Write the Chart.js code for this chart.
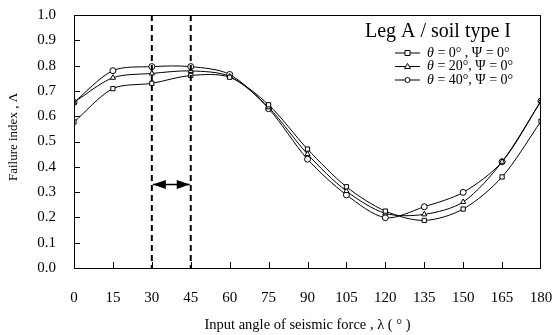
<!DOCTYPE html>
<html><head><meta charset="utf-8">
<style>html,body{margin:0;padding:0;background:#fff}#c{display:block}</style>
<script src="https://cdn.jsdelivr.net/npm/chart.js@4/dist/chart.umd.min.js"></script>
</head><body>
<canvas id="c" width="554" height="335"></canvas>
<script>
const angles=[0,15,30,45,60,75,90,105,120,135,150,165,180];
const theta0=[0.577,0.709,0.730,0.761,0.754,0.645,0.470,0.321,0.225,0.188,0.233,0.360,0.580];
const theta20=[0.655,0.752,0.769,0.779,0.757,0.635,0.450,0.304,0.216,0.212,0.261,0.420,0.660];
const theta40=[0.655,0.780,0.796,0.796,0.765,0.630,0.430,0.289,0.199,0.242,0.299,0.420,0.660];
const seriesLabels=['θ = 0° , Ψ = 0°','θ = 20°, Ψ = 0°','θ = 40°, Ψ = 0°'];
const markers=['rect','triangle','circle'];
const xTicks=[0,15,30,45,60,75,90,105,120,135,150,165,180];
const yTicks=[0,0.1,0.2,0.3,0.4,0.5,0.6,0.7,0.8,0.9,1.0];
const bandStart=30, bandEnd=45, arrowLevel=0.33;
const chartTitle='Leg A / soil type I';
const xTitle='Input angle of seismic force , λ ( ° )';
const yTitle='Failure index , Λ';

const SERIF='"Liberation Serif","DejaVu Serif",serif';
function mk(vals,i){
  return {label:seriesLabels[i],data:angles.map((a,k)=>({x:a,y:vals[k]})),
    borderColor:'#000',borderWidth:1,backgroundColor:'#fff',pointStyle:markers[i],
    pointRadius:3,pointBorderWidth:1,pointBorderColor:'#000',pointBackgroundColor:'#fff',
    tension:0.3,fill:false};
}
function noPad(s){s.paddingLeft=0;s.paddingRight=0;s.paddingTop=0;s.paddingBottom=0;}
const deco={
  id:'deco',
  afterDraw(chart){
    const {ctx,chartArea:a,scales:{x,y}}=chart;
    ctx.save();
    ctx.strokeStyle='#000';ctx.lineWidth=1;
    ctx.strokeRect(a.left+0.5,a.top+0.5,a.right-a.left-1,a.bottom-a.top);
    ctx.beginPath();
    xTicks.forEach(v=>{if(v>0&&v<180){const px=Math.round(x.getPixelForValue(v))+0.5;ctx.moveTo(px,a.bottom);ctx.lineTo(px,a.bottom-6);}});
    yTicks.forEach(v=>{if(v>0&&v<1){const py=Math.round(y.getPixelForValue(v))+0.5;ctx.moveTo(a.left,py);ctx.lineTo(a.left+6,py);}});
    ctx.stroke();
    ctx.lineWidth=2;ctx.setLineDash([6,4]);
    [bandStart,bandEnd].forEach(v=>{const px=x.getPixelForValue(v);ctx.beginPath();ctx.moveTo(px,a.top);ctx.lineTo(px,a.bottom);ctx.stroke();});
    ctx.setLineDash([]);
    const x1=x.getPixelForValue(bandStart)+1,x2=x.getPixelForValue(bandEnd)-1,ay=y.getPixelForValue(arrowLevel);
    ctx.lineWidth=1.5;ctx.beginPath();ctx.moveTo(x1,ay);ctx.lineTo(x2,ay);ctx.stroke();
    ctx.fillStyle='#000';
    ctx.beginPath();ctx.moveTo(x1,ay);ctx.lineTo(x1+13,ay-4.5);ctx.lineTo(x1+13,ay+4.5);ctx.closePath();ctx.fill();
    ctx.beginPath();ctx.moveTo(x2,ay);ctx.lineTo(x2-13,ay-4.5);ctx.lineTo(x2-13,ay+4.5);ctx.closePath();ctx.fill();
    ctx.fillStyle='#000';
    ctx.font='20px '+SERIF;ctx.textAlign='right';ctx.textBaseline='alphabetic';
    ctx.fillText(chartTitle,511,37);
    ctx.font='14.5px '+SERIF;ctx.textAlign='center';ctx.textBaseline='middle';
    ctx.fillText(xTitle,(a.left+a.right)/2,325);
    ctx.font='13px '+SERIF;
    ctx.save();ctx.translate(14,137);ctx.rotate(-Math.PI/2);ctx.fillText(yTitle,0,0);ctx.restore();
    const ly=[53,66.5,80];
    chart.data.datasets.forEach((ds,i)=>{
      ctx.strokeStyle='#000';ctx.lineWidth=1;
      ctx.beginPath();ctx.moveTo(395,ly[i]);ctx.lineTo(420,ly[i]);ctx.stroke();
      ctx.fillStyle='#fff';ctx.strokeStyle='#000';
      ctx.beginPath();
      if(ds.pointStyle==='rect'){ctx.rect(405,ly[i]-2.5,5,5);}
      else if(ds.pointStyle==='circle'){ctx.arc(407.5,ly[i],2.5,0,Math.PI*2);}
      else {ctx.moveTo(407.5,ly[i]-3);ctx.lineTo(410.5,ly[i]+2);ctx.lineTo(404.5,ly[i]+2);ctx.closePath();}
      ctx.fill();ctx.stroke();
      ctx.fillStyle='#000';ctx.textAlign='left';ctx.textBaseline='middle';
      ctx.font='italic 14px '+SERIF;ctx.fillText('θ',427,ly[i]);
      const w=ctx.measureText('θ').width;
      ctx.font='14px '+SERIF;ctx.fillText(ds.label.slice(1),427+w,ly[i]);
    });
    ctx.restore();
  }
};
new Chart(document.getElementById('c'),{
  type:'line',
  data:{datasets:[mk(theta0,0),mk(theta20,1),mk(theta40,2)]},
  options:{
    responsive:false,animation:false,
    layout:{padding:{left:0,top:15,right:13,bottom:0}},
    plugins:{legend:{display:false},tooltip:{enabled:false},title:{display:false}},
    scales:{
      x:{type:'linear',min:0,max:180,
        afterFit(s){s.height=67;noPad(s);},
        afterBuildTicks(s){s.ticks=xTicks.map(v=>({value:v}));},
        grid:{display:false,drawTicks:false},border:{display:false},
        ticks:{padding:21,color:'#000',font:{family:SERIF,size:15},maxRotation:0,autoSkip:false}},
      y:{type:'linear',min:0,max:1,
        afterFit(s){s.width=74;noPad(s);},
        afterBuildTicks(s){s.ticks=yTicks.map(v=>({value:v}));},
        grid:{display:false,drawTicks:false},border:{display:false},
        ticks:{padding:18,color:'#000',font:{family:SERIF,size:15},callback:v=>v.toFixed(1)}}
    }
  },
  plugins:[deco]
});
</script>
</body></html>
